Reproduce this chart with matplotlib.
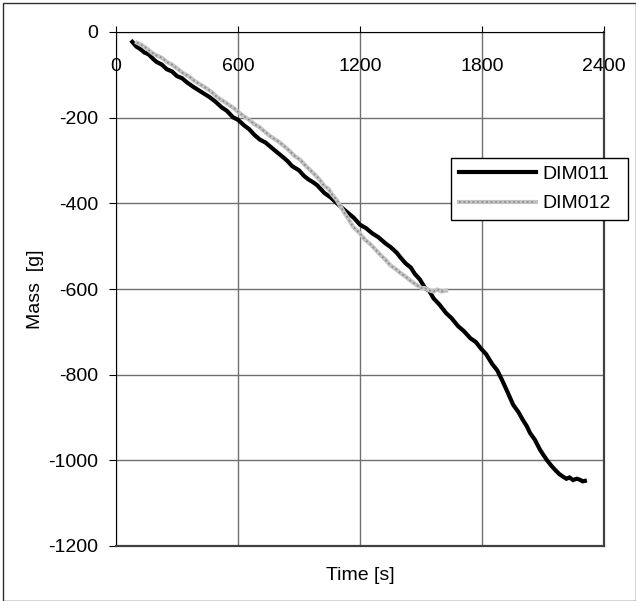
import matplotlib
matplotlib.use("Agg")
import matplotlib.pyplot as plt
from matplotlib.patches import Rectangle

plt.rcParams["font.family"] = ["Liberation Sans", "DejaVu Sans"]
plt.rcParams["font.size"] = 14
plt.rcParams["axes.unicode_minus"] = False

# DIM011 (black)
dim011_t = [80, 100, 120, 140, 160, 185, 200, 225, 250, 275, 300, 325, 350, 380, 413,
            440, 460, 490, 520, 545, 575, 600, 630, 655, 680, 707, 735, 760, 790, 826,
            845, 866, 900, 925, 946, 970, 990, 1025, 1055, 1085, 1110, 1140, 1170, 1200,
            1230, 1260, 1290, 1324, 1350, 1380, 1400, 1424, 1450, 1470, 1495, 1520, 1540,
            1562, 1590, 1623, 1650, 1683, 1710, 1743, 1770, 1793, 1820, 1850, 1875, 1898,
            1925, 1953, 1980, 2000, 2020, 2036, 2060, 2085, 2100, 2120, 2140, 2159, 2180,
            2198, 2215, 2230, 2248, 2265, 2280, 2295, 2306]
dim011_m = [-23, -34, -40, -48, -52, -64, -70, -76, -87, -92, -103, -108, -118, -128, -138,
            -146, -152, -163, -176, -184, -199, -205, -218, -227, -240, -251, -258, -268, -280, -294,
            -302, -313, -323, -336, -344, -351, -358, -376, -386, -399, -410, -422, -434, -450,
            -458, -470, -479, -493, -502, -515, -527, -540, -550, -565, -578, -598, -604,
            -622, -636, -656, -668, -687, -698, -715, -724, -738, -752, -775, -790, -812,
            -840, -870, -888, -905, -920, -936, -952, -975, -986, -1000, -1012, -1022, -1032,
            -1038, -1043, -1040, -1046, -1043, -1045, -1049, -1048]

# DIM012 (grey)
dim012_t = [103, 125, 150, 175, 200, 225, 250, 275, 300, 330, 360, 385, 413, 440, 470,
            500, 530, 555, 580, 600, 627, 655, 680, 705, 730, 755, 780, 800, 826, 850,
            880, 905, 926, 950, 980, 1000, 1025, 1045, 1060, 1085, 1100, 1120, 1140, 1165,
            1195, 1225, 1250, 1280, 1300, 1324, 1350, 1380, 1400, 1424, 1450, 1470, 1490,
            1504, 1520, 1540, 1562, 1580, 1600, 1623]
dim012_m = [-25, -30, -38, -48, -55, -60, -70, -76, -85, -96, -104, -114, -122, -130, -140,
            -153, -162, -170, -178, -186, -196, -205, -215, -222, -232, -242, -250, -256, -266, -276,
            -290, -298, -309, -320, -334, -344, -360, -366, -378, -392, -404, -420, -434, -454,
            -468, -485, -495, -510, -520, -531, -545, -555, -563, -571, -581, -588, -594,
            -598, -598, -603, -606, -601, -606, -604]

x_ticks = [0, 600, 1200, 1800, 2400]
y_ticks = [-1200, -1000, -800, -600, -400, -200, 0]

W, H = 636, 601
fig = plt.figure(figsize=(W / 100, H / 100), dpi=100)
ax = fig.add_axes([116 / W, 1 - 546 / H, 488 / W, 514 / H])

ax.set_xlim(0, 2400)
ax.set_ylim(-1200, 0)
ax.set_xticks(x_ticks)
ax.set_yticks(y_ticks)
ax.grid(True, color="#707070", linewidth=1)
ax.set_axisbelow(True)

line1, = ax.plot(dim011_t, dim011_m, color="black", linewidth=3, solid_joinstyle="miter")
base2, = ax.plot(dim012_t, dim012_m, color="#c4c4c4", linewidth=3)
dots2, = ax.plot(dim012_t, dim012_m, color="#8c8c8c", linewidth=1.3, linestyle=(0, (1, 1.5)))

ax.spines["left"].set_color("black")
ax.spines["top"].set_color("black")
ax.spines["right"].set_color("#404040")
ax.spines["bottom"].set_color("#404040")
ax.spines["right"].set_linewidth(1.6)
ax.spines["bottom"].set_linewidth(1.6)

ax.tick_params(axis="x", top=True, bottom=False, labeltop=True, labelbottom=False,
               direction="out", length=4, pad=-35, colors="black")
ax.tick_params(axis="y", direction="out", length=5, pad=8, colors="black")

ax.set_xlabel("Time [s]", va="center")
ax.xaxis.set_label_coords(0.5, -0.058)
ax.set_ylabel("Mass  [g]", va="center")
ax.yaxis.set_label_coords(-0.165, 0.5)

leg = ax.legend([line1, (base2, dots2)], ["DIM011", "DIM012"],
                loc="center", bbox_to_anchor=(0.686, 0.628, 0.363, 0.133), mode="expand",
                borderaxespad=0, fancybox=False, framealpha=1, edgecolor="black",
                handlelength=4.0, handletextpad=0.3, labelspacing=0.6, borderpad=0.4)
leg.get_frame().set_linewidth(1)

fig.patches.append(Rectangle((3 / W, 0.5 / H), (W - 3.5) / W, (H - 3.5) / H,
                             transform=fig.transFigure, fill=False,
                             edgecolor="#303030", linewidth=1))

fig.savefig("out.png", dpi=100)
